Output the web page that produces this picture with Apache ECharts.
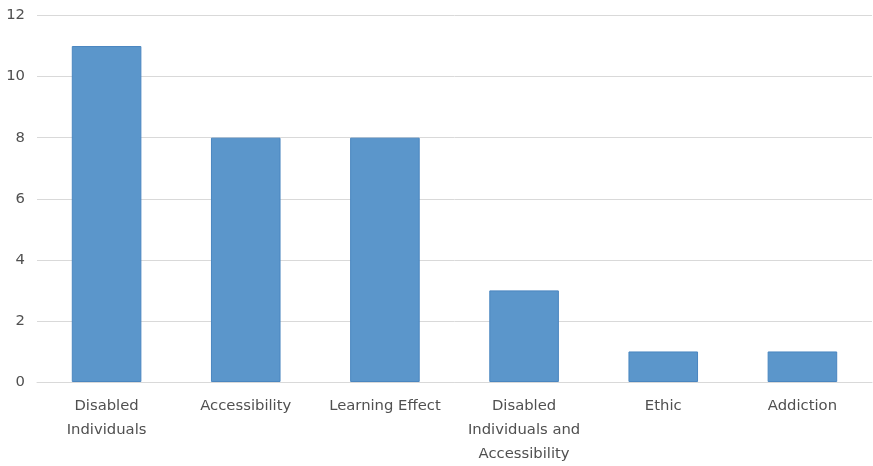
<!DOCTYPE html>
<html>
<head>
<meta charset="utf-8">
<script src="https://cdn.jsdelivr.net/npm/echarts@6/dist/echarts.min.js"></script>
<style>
  html, body { margin: 0; padding: 0; background: #fff; }
  #chart { width: 873px; height: 466px; }
</style>
</head>
<body>
<div id="chart"></div>
<script>
// Topic categories and counts
const categories = [
  'Disabled\nIndividuals',
  'Accessibility',
  'Learning Effect',
  'Disabled\nIndividuals and\nAccessibility',
  'Ethic',
  'Addiction'
];
const counts = [11, 8, 8, 3, 1, 1];
const yTicks = { min: 0, max: 12, interval: 2 };

const chart = echarts.init(document.getElementById('chart'));
chart.setOption({
  animation: false,
  grid: { left: 37, right: 1, top: 15.5, bottom: 78, containLabel: false },
  xAxis: {
    type: 'category',
    data: categories,
    axisLine: { show: true, lineStyle: { color: '#d9d9d9', width: 1 } },
    axisTick: { show: false },
    axisLabel: {
      interval: 0,
      color: '#505050',
      fontFamily: 'DejaVu Sans',
      fontSize: 14.8,
      lineHeight: 24,
      margin: 12
    }
  },
  yAxis: {
    type: 'value',
    min: yTicks.min,
    max: yTicks.max,
    interval: yTicks.interval,
    axisLine: { show: false },
    axisTick: { show: false },
    splitLine: { lineStyle: { color: '#d9d9d9', width: 1 } },
    axisLabel: {
      color: '#505050',
      fontFamily: 'DejaVu Sans',
      fontSize: 14.8,
      margin: 12
    }
  },
  series: [{
    type: 'bar',
    data: counts,
    barWidth: '50%',
    itemStyle: { color: '#5b96cb', borderColor: '#4a86c0', borderWidth: 1 }
  }]
});
</script>
</body>
</html>
